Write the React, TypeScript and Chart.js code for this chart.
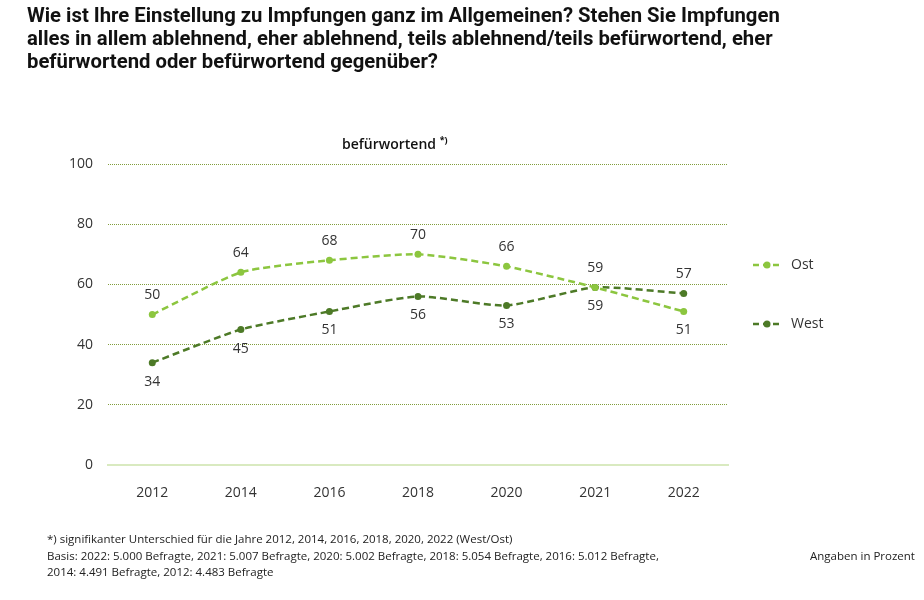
import React, { useEffect, useRef } from "react";
import { Chart, registerables } from "chart.js";

Chart.register(...registerables);

const categories = ["2012", "2014", "2016", "2018", "2020", "2021", "2022"];
const ostValues = [50, 64, 68, 70, 66, 59, 51];
const westValues = [34, 45, 51, 56, 53, 59, 57];
const ostLabelSide = ["above", "above", "above", "above", "above", "below", "below"];
const westLabelSide = ["below", "below", "below", "below", "below", "above", "above"];
const yTicks = [0, 20, 40, 60, 80, 100];

const OST = "#8cc63f";
const WEST = "#4d7a27";
const FONT = "'Open Sans', 'Liberation Sans', sans-serif";

const labelPlugin = {
  id: "pointLabels",
  afterDatasetsDraw(chart: any) {
    const ctx = chart.ctx;
    ctx.save();
    ctx.font = `14px ${FONT}`;
    ctx.fillStyle = "#333";
    ctx.textAlign = "center";
    ctx.textBaseline = "middle";
    const sides = [ostLabelSide, westLabelSide];
    chart.data.datasets.forEach((ds: any, di: number) => {
      const meta = chart.getDatasetMeta(di);
      meta.data.forEach((pt: any, i: number) => {
        const off = sides[di][i] === "above" ? -19 : 19;
        ctx.fillText(String(ds.data[i]), pt.x, pt.y + off);
      });
    });
    const entries = [
      { label: "Ost", color: OST, y: 265 },
      { label: "West", color: WEST, y: 324 },
    ];
    entries.forEach((e) => {
      ctx.strokeStyle = e.color;
      ctx.lineWidth = 2.5;
      ctx.setLineDash([6, 4]);
      ctx.beginPath();
      ctx.moveTo(753, e.y);
      ctx.lineTo(782, e.y);
      ctx.stroke();
      ctx.setLineDash([]);
      ctx.fillStyle = e.color;
      ctx.beginPath();
      ctx.arc(767, e.y, 3.5, 0, Math.PI * 2);
      ctx.fill();
      ctx.fillStyle = "#333";
      ctx.textAlign = "left";
      ctx.fillText(e.label, 791, e.y);
    });
    ctx.restore();
  },
};

export default function App() {
  const ref = useRef<HTMLCanvasElement>(null);
  useEffect(() => {
    if (!ref.current) return;
    const chart = new Chart(ref.current, {
      type: "line",
      data: {
        labels: categories,
        datasets: [
          {
            label: "Ost",
            data: ostValues,
            borderColor: OST,
            backgroundColor: OST,
            borderWidth: 2.5,
            borderDash: [7, 4],
            pointRadius: 3.5,
            pointBackgroundColor: OST,
            pointBorderWidth: 0,
            tension: 0.2,
          },
          {
            label: "West",
            data: westValues,
            borderColor: WEST,
            backgroundColor: WEST,
            borderWidth: 2.5,
            borderDash: [7, 4],
            pointRadius: 3.5,
            pointBackgroundColor: WEST,
            pointBorderWidth: 0,
            tension: 0.2,
          },
        ],
      },
      options: {
        animation: false,
        responsive: false,
        devicePixelRatio: 1,
        layout: { padding: { left: 0, right: 196, top: 164, bottom: 95 } },
        plugins: { legend: { display: false }, tooltip: { enabled: false }, title: { display: false } },
        scales: {
          x: {
            offset: true,
            grid: { display: false },
            border: { display: true, color: "#d9eac0", width: 2 },
            ticks: { color: "#333", font: { family: FONT, size: 14 }, padding: 12 },
            afterFit: (s: any) => { s.height = 40; },
          },
          y: {
            min: 0,
            max: 100,
            afterBuildTicks: (s: any) => { s.ticks = yTicks.map((v) => ({ value: v })); },
            afterFit: (s: any) => { s.width = 108; },
            grid: {
              drawTicks: false,
              color: (c: any) => (c.tick && c.tick.value === 0 ? "rgba(0,0,0,0)" : "#819d3c"),
              lineWidth: 1,
            },
            border: { display: false, dash: [1, 1] },
            ticks: { color: "#333", font: { family: FONT, size: 14 }, padding: 15 },
          },
        },
      },
      plugins: [labelPlugin],
    });
    return () => chart.destroy();
  }, []);

  return (
    <div style={{ position: "absolute", left: 0, top: 0, width: 924, height: 600, background: "#fff", overflow: "hidden" }}>
      <canvas ref={ref} width={924} height={600} style={{ position: "absolute", left: 0, top: 0 }} />
      <div
        style={{
          position: "absolute",
          left: 27,
          top: 4,
          width: 880,
          fontFamily: "Roboto, sans-serif",
          fontWeight: 700,
          fontSize: 20.3,
          lineHeight: "23px",
          color: "#111",
          whiteSpace: "nowrap",
        }}
      >
        Wie ist Ihre Einstellung zu Impfungen ganz im Allgemeinen? Stehen Sie Impfungen
        <br />
        alles in allem ablehnend, eher ablehnend, teils ablehnend/teils befürwortend, eher
        <br />
        befürwortend oder befürwortend gegenüber?
      </div>
      <div
        style={{
          position: "absolute",
          left: 342,
          top: 133,
          fontFamily: FONT,
          fontWeight: 600,
          fontSize: 14,
          color: "#111",
          whiteSpace: "nowrap",
        }}
      >
        befürwortend <sup style={{ fontSize: 9, fontWeight: 700 }}>*)</sup>
      </div>
      <div
        style={{
          position: "absolute",
          left: 47,
          top: 531,
          fontFamily: "'Liberation Sans Narrow', 'Open Sans', sans-serif",
          fontSize: 11.5,
          lineHeight: "16.5px",
          color: "#222",
          whiteSpace: "nowrap",
        }}
      >
        <div>*) signifikanter Unterschied für die Jahre 2012, 2014, 2016, 2018, 2020, 2022 (West/Ost)</div>
        <div>Basis: 2022: 5.000 Befragte, 2021: 5.007 Befragte, 2020: 5.002 Befragte, 2018: 5.054 Befragte, 2016: 5.012 Befragte,</div>
        <div>2014: 4.491 Befragte, 2012: 4.483 Befragte</div>
      </div>
      <div
        style={{
          position: "absolute",
          left: 810,
          top: 547.5,
          fontFamily: "'Liberation Sans Narrow', 'Open Sans', sans-serif",
          fontSize: 11.5,
          lineHeight: "16.5px",
          color: "#222",
          whiteSpace: "nowrap",
        }}
      >
        Angaben in Prozent
      </div>
    </div>
  );
}
